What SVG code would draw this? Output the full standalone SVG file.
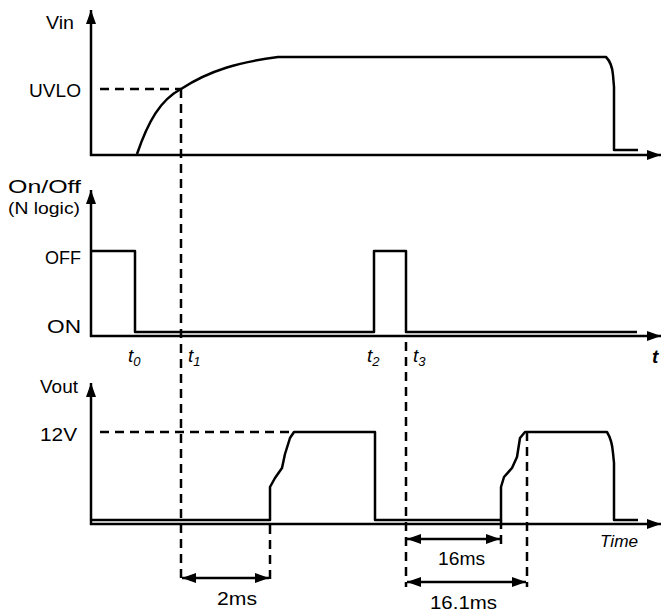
<svg xmlns="http://www.w3.org/2000/svg" width="662" height="613" viewBox="0 0 662 613">
<style>
.ax{stroke:#000;stroke-width:2.5;fill:none}
.sig{stroke:#000;stroke-width:2.5;fill:none;stroke-linejoin:round}
.dash{stroke:#000;stroke-width:2.5;fill:none;stroke-dasharray:9 6}
.dim{stroke:#000;stroke-width:2.5;fill:none}
.lbl{font-family:"Liberation Sans",Arial,sans-serif;font-size:18px;fill:#000}
.sm{font-family:"Liberation Sans",Arial,sans-serif;font-size:16px;fill:#000}
.it{font-family:"Liberation Sans",Arial,sans-serif;font-style:italic;font-size:19px;fill:#000}
</style>
<defs>
<marker id="ah" viewBox="0 0 14 10" refX="14" refY="5" markerWidth="14" markerHeight="10" markerUnits="userSpaceOnUse" orient="auto-start-reverse">
<path d="M0,0 L14,5 L0,10 Z" fill="#000"/>
</marker>
</defs>
<g id="panel-vin">
<line class="ax" x1="91" y1="156" x2="91" y2="10" marker-end="url(#ah)"/>
<line class="ax" x1="90" y1="155" x2="661" y2="155" marker-end="url(#ah)"/>
<text class="lbl" x="46" y="29" textLength="28" lengthAdjust="spacingAndGlyphs">Vin</text>
<text class="lbl" x="29" y="97" textLength="52" lengthAdjust="spacingAndGlyphs">UVLO</text>
<path class="sig" d="M137,154 C148,122 160,100 181,89 C210,70 240,62 278,57 L606,57 Q612,63 613,75 L614,87 L614,150 L638,150"/>
</g>
<g id="panel-onoff">
<line class="ax" x1="91" y1="337" x2="91" y2="190" marker-end="url(#ah)"/>
<line class="ax" x1="90" y1="336" x2="661" y2="336" marker-end="url(#ah)"/>
<text class="lbl" x="8" y="193" textLength="73" lengthAdjust="spacingAndGlyphs">On/Off</text>
<text class="sm" x="8" y="214" textLength="72" lengthAdjust="spacingAndGlyphs">(N logic)</text>
<text class="lbl" x="45" y="264" textLength="36" lengthAdjust="spacingAndGlyphs">OFF</text>
<text class="lbl" x="47" y="333" textLength="34" lengthAdjust="spacingAndGlyphs">ON</text>
<path class="sig" d="M92,251 L135,251 L135,332 L374,332 L374,251 L406,251 L406,332 L637,332"/>
<text class="it" x="128" y="362">t<tspan font-size="13" dy="4">0</tspan></text>
<text class="it" x="188" y="362">t<tspan font-size="13" dy="4">1</tspan></text>
<text class="it" x="367" y="362">t<tspan font-size="13" dy="4">2</tspan></text>
<text class="it" x="413" y="362">t<tspan font-size="13" dy="4">3</tspan></text>
<text class="it" x="652" y="363" font-size="25" font-weight="bold">t</text>
</g>
<g id="panel-vout">
<line class="ax" x1="91" y1="525" x2="91" y2="383" marker-end="url(#ah)"/>
<line class="ax" x1="90" y1="524" x2="661" y2="524" marker-end="url(#ah)"/>
<text class="lbl" x="40" y="393" textLength="38" lengthAdjust="spacingAndGlyphs">Vout</text>
<text class="lbl" x="40" y="441" textLength="37" lengthAdjust="spacingAndGlyphs">12V</text>
<path class="sig" d="M92,520 L270,520 L270,487 L275,478 L282,468 L285,454 L290,438 L294,432 L375,432 L375,520 L501,520 L501,487 L504,477 L512,468 L517,457 L520,438 L525,432 L607,432 Q612,440 613,453 L614,463 L614,520 L638,520"/>
<text class="sm" x="600" y="547" font-style="italic" textLength="38" lengthAdjust="spacingAndGlyphs">Time</text>
</g>
<g id="connectors">
<line class="dash" x1="100" y1="89" x2="181" y2="89"/>
<line class="dash" x1="100" y1="432" x2="293" y2="432"/>
<line class="dash" x1="181" y1="89" x2="181" y2="584"/>
<line class="dash" x1="270" y1="525" x2="270" y2="584"/>
<line class="dash" x1="406" y1="342" x2="406" y2="587"/>
<line class="dash" x1="501" y1="520" x2="501" y2="550"/>
<line class="dash" x1="527" y1="432" x2="527" y2="587"/>
<line class="dim" x1="182" y1="578" x2="269" y2="578" marker-start="url(#ah)" marker-end="url(#ah)"/>
<line class="dim" x1="407" y1="539" x2="500" y2="539" marker-start="url(#ah)" marker-end="url(#ah)"/>
<line class="dim" x1="407" y1="582" x2="526" y2="582" marker-start="url(#ah)" marker-end="url(#ah)"/>
<text class="lbl" x="217" y="605" textLength="40" lengthAdjust="spacingAndGlyphs">2ms</text>
<text class="lbl" x="438" y="565" textLength="47" lengthAdjust="spacingAndGlyphs">16ms</text>
<text class="lbl" x="430" y="609" textLength="67" lengthAdjust="spacingAndGlyphs">16.1ms</text>
</g>
</svg>
